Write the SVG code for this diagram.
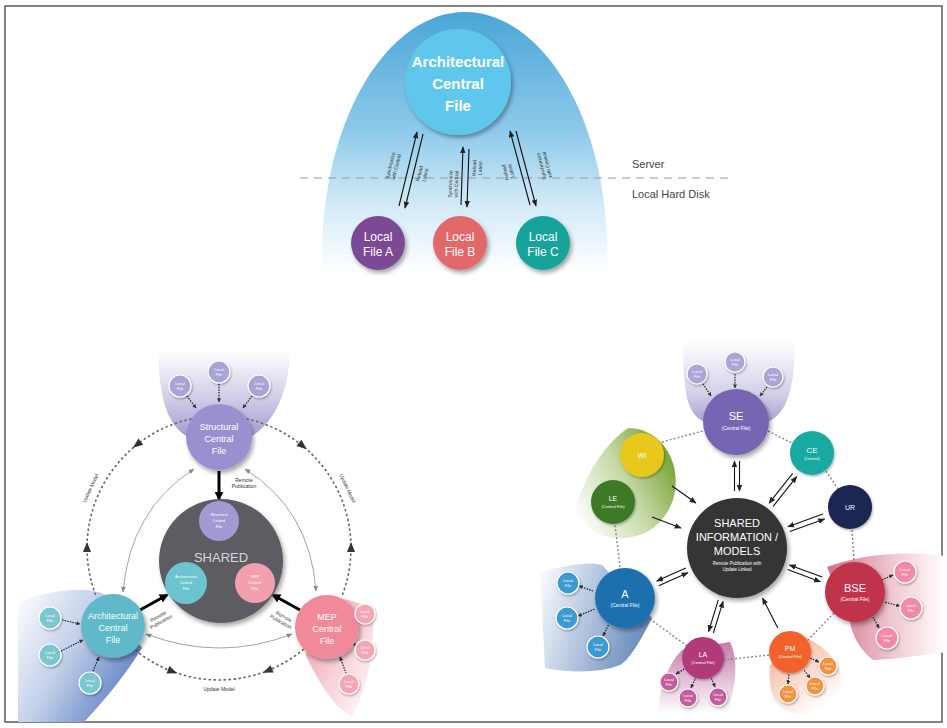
<svg xmlns="http://www.w3.org/2000/svg" width="947" height="728" viewBox="0 0 947 728">
  <defs>
    <style>
      .t { font-family: "Liberation Sans", Arial, sans-serif; }
      .wb { fill: #ffffff; font-weight: bold; text-anchor: middle; }
      .w { fill: #ffffff; text-anchor: middle; }
      .tiny { font-size: 4px; fill: #ffffff; text-anchor: middle; }
      .lbl { font-size: 5px; fill: #333333; text-anchor: middle; }
      .ring { fill: none; stroke: #666666; stroke-width: 1.6; stroke-dasharray: 2.5 2.5; }
      .dash { fill: none; stroke: #888888; stroke-width: 1.4; stroke-dasharray: 2 2; }
      .thin { fill: none; stroke: #999999; stroke-width: 0.9; }
      .blk { fill: none; stroke: #111111; stroke-width: 1.1; }
      .small { stroke: #ffffff; stroke-width: 1.2; }
    </style>
    <filter id="sh" x="-30%" y="-30%" width="170%" height="170%">
      <feDropShadow dx="2" dy="3" stdDeviation="2" flood-color="#000000" flood-opacity="0.35"/>
    </filter>
    <filter id="sh2" x="-30%" y="-30%" width="170%" height="170%">
      <feDropShadow dx="1" dy="1.5" stdDeviation="1" flood-color="#000000" flood-opacity="0.3"/>
    </filter>
    <linearGradient id="gDome" x1="0" y1="0" x2="0" y2="1">
      <stop offset="0" stop-color="#4aa6d8"/>
      <stop offset="0.45" stop-color="#8cc9ea"/>
      <stop offset="0.75" stop-color="#d4ebf7"/>
      <stop offset="1" stop-color="#ffffff"/>
    </linearGradient>
    <linearGradient id="gStr" x1="0" y1="0" x2="0" y2="1">
      <stop offset="0" stop-color="#ffffff"/>
      <stop offset="0.55" stop-color="#d2cde8"/>
      <stop offset="1" stop-color="#a49bd2"/>
    </linearGradient>
    <linearGradient id="gArch" x1="0" y1="0" x2="1" y2="0.6">
      <stop offset="0" stop-color="#ffffff"/>
      <stop offset="0.5" stop-color="#c3d0ea"/>
      <stop offset="1" stop-color="#5f82c4"/>
    </linearGradient>
    <linearGradient id="gMep" x1="0" y1="0" x2="1" y2="1">
      <stop offset="0" stop-color="#ee94a6"/>
      <stop offset="0.55" stop-color="#f8d3da"/>
      <stop offset="1" stop-color="#ffffff"/>
    </linearGradient>
    <linearGradient id="gSE" x1="0" y1="0" x2="0" y2="1">
      <stop offset="0" stop-color="#ffffff"/>
      <stop offset="0.65" stop-color="#d4d0e8"/>
      <stop offset="1" stop-color="#aaa3d3"/>
    </linearGradient>
    <linearGradient id="gBSE" x1="0" y1="0" x2="1" y2="0">
      <stop offset="0" stop-color="#cf7286"/>
      <stop offset="0.55" stop-color="#efc8d0"/>
      <stop offset="1" stop-color="#ffffff"/>
    </linearGradient>
    <linearGradient id="gPM" x1="0" y1="0" x2="0.6" y2="1">
      <stop offset="0" stop-color="#f2a68a"/>
      <stop offset="1" stop-color="#ffffff"/>
    </linearGradient>
    <linearGradient id="gLA" x1="0" y1="0" x2="0" y2="1">
      <stop offset="0" stop-color="#c47aa8"/>
      <stop offset="1" stop-color="#ffffff"/>
    </linearGradient>
    <linearGradient id="gA" x1="1" y1="0.3" x2="0" y2="0">
      <stop offset="0" stop-color="#7090bf"/>
      <stop offset="0.6" stop-color="#c5d2e6"/>
      <stop offset="1" stop-color="#ffffff"/>
    </linearGradient>
    <linearGradient id="gLeaf" x1="1" y1="0.2" x2="0" y2="0.8">
      <stop offset="0" stop-color="#6f9d25"/>
      <stop offset="0.5" stop-color="#c6d9a8"/>
      <stop offset="1" stop-color="#ffffff"/>
    </linearGradient>
    <marker id="ah" viewBox="0 0 10 10" refX="9" refY="5" markerWidth="7" markerHeight="7" markerUnits="userSpaceOnUse" orient="auto-start-reverse">
      <path d="M0,1 L10,5 L0,9 z" fill="#222222"/>
    </marker>
    <marker id="ahB" viewBox="0 0 10 10" refX="8" refY="5" markerWidth="9" markerHeight="9" markerUnits="userSpaceOnUse" orient="auto-start-reverse">
      <path d="M0,0 L10,5 L0,10 z" fill="#000000"/>
    </marker>
    <marker id="ahG" viewBox="0 0 10 10" refX="9" refY="5" markerWidth="6" markerHeight="6" markerUnits="userSpaceOnUse" orient="auto-start-reverse">
      <path d="M0,1 L10,5 L0,9 z" fill="#888888"/>
    </marker>
    <marker id="ahS" viewBox="0 0 10 10" refX="9" refY="5" markerWidth="4" markerHeight="4" markerUnits="userSpaceOnUse" orient="auto-start-reverse">
      <path d="M0,0 L10,5 L0,10 z" fill="#333333"/>
    </marker>
  </defs>

  <rect x="0" y="0" width="947" height="728" fill="#ffffff"/>
  <rect x="5" y="6" width="937" height="716" fill="none" stroke="#333333" stroke-width="1.2"/>

  <!-- ===== Worksharing: central file on server, local copies ===== -->
  <g id="server-zone">
    <path d="M322,272 C318,120 388,12 465,12 C542,12 612,120 607,272 Z" fill="url(#gDome)"/>
    <line x1="300" y1="178" x2="728" y2="178" stroke="#999999" stroke-width="1.2" stroke-dasharray="8 6"/>
    <text class="t" x="632" y="168" font-size="11" fill="#444444">Server</text>
    <text class="t" x="632" y="198" font-size="11" fill="#444444">Local Hard Disk</text>
  </g>

  <g id="arch-central">
    <circle cx="458" cy="82" r="53" fill="#5fc6ec" filter="url(#sh)"/>
    <text class="t wb" font-size="15"><tspan x="458" y="67">Architectural</tspan><tspan x="458" y="89">Central</tspan><tspan x="458" y="111">File</tspan></text>
  </g>
  <g id="local-a">
    <circle cx="378" cy="243" r="27" fill="#7b4a95" filter="url(#sh)"/>
    <text class="t w" font-size="12"><tspan x="378" y="241">Local</tspan><tspan x="378" y="256">File A</tspan></text>
  </g>
  <g id="local-b">
    <circle cx="460" cy="243" r="27" fill="#e2696b" filter="url(#sh)"/>
    <text class="t w" font-size="12"><tspan x="460" y="241">Local</tspan><tspan x="460" y="256">File B</tspan></text>
  </g>
  <g id="local-c">
    <circle cx="543" cy="243" r="27" fill="#16a39a" filter="url(#sh)"/>
    <text class="t w" font-size="12"><tspan x="543" y="241">Local</tspan><tspan x="543" y="256">File C</tspan></text>
  </g>

  <g id="sync-connectors">
    <line class="blk" x1="399" y1="206" x2="417" y2="132" marker-end="url(#ah)"/>
    <line class="blk" x1="423" y1="134" x2="405" y2="208" marker-end="url(#ah)"/>
    <line class="blk" x1="461" y1="205" x2="463" y2="147" marker-end="url(#ah)"/>
    <line class="blk" x1="469" y1="149" x2="467" y2="207" marker-end="url(#ah)"/>
    <line class="blk" x1="530" y1="205" x2="510" y2="131" marker-end="url(#ah)"/>
    <line class="blk" x1="516" y1="131" x2="536" y2="206" marker-end="url(#ah)"/>
    <g class="t lbl" font-size="5">
      <text transform="translate(392,166) rotate(-76)"><tspan x="0" y="0">Synchronize</tspan><tspan x="0" y="6">with Central</tspan></text>
      <text transform="translate(421,174) rotate(-76)"><tspan x="0" y="0">Reload</tspan><tspan x="0" y="6">Latest</tspan></text>
      <text transform="translate(452,184) rotate(-88)"><tspan x="0" y="0">Synchronize</tspan><tspan x="0" y="6">with Central</tspan></text>
      <text transform="translate(476,168) rotate(-88)"><tspan x="0" y="0">Reload</tspan><tspan x="0" y="6">Latest</tspan></text>
      <text transform="translate(507,172) rotate(-104)"><tspan x="0" y="0">Reload</tspan><tspan x="0" y="6">Latest</tspan></text>
      <text transform="translate(543,166) rotate(-104)"><tspan x="0" y="0">Synchronize</tspan><tspan x="0" y="6">with Central</tspan></text>
    </g>
  </g>

  <!-- ===== Linked central files sharing through a common set ===== -->
  <g id="zones-left">
    <path d="M158,350 L290,350 C289,395 272,425 250,437 L188,437 C166,425 159,395 158,350 Z" fill="url(#gStr)"/>
    <path d="M18,602 C50,590 85,586 104,594 L142,648 C122,680 100,705 84,722 L18,722 Z" fill="url(#gArch)"/>
    <path d="M310,600 C335,595 356,600 373,610 C374,650 368,690 352,716 C334,708 320,684 306,656 Z" fill="url(#gMep)"/>
  </g>

  <g id="connectors-left">
    <!-- dashed ring between the three central files -->
    <path class="ring" d="M191.6,418.9 A132,132 0 0 0 96.6,597.4"/>
    <path class="ring" d="M246.4,418.9 A132,132 0 0 1 341.4,597.4"/>
    <path class="ring" d="M303.8,649.1 A132,132 0 0 1 134.9,649.7"/>
    <g fill="#333333">
      <polygon points="6,0 -4,-4 -4,4" transform="translate(137.7,444) rotate(142)"/>
      <polygon points="6,0 -4,-4 -4,4" transform="translate(87,548) rotate(270)"/>
      <polygon points="6,0 -4,-4 -4,4" transform="translate(302.1,445.4) rotate(39)"/>
      <polygon points="6,0 -4,-4 -4,4" transform="translate(351,548) rotate(-90)"/>
      <polygon points="6,0 -4,-4 -4,4" transform="translate(268.4,670.4) rotate(158)"/>
      <polygon points="6,0 -4,-4 -4,4" transform="translate(171.7,671.2) rotate(21)"/>
    </g>
    <text class="t lbl" transform="translate(92,489) rotate(-65)">Update Model</text>
    <text class="t lbl" transform="translate(346,489) rotate(65)">Update Model</text>
    <text class="t lbl" x="219" y="691">Update Model</text>
    <!-- thin links around the shared set -->
    <path class="thin" d="M194,469 Q130,510 123,592" marker-start="url(#ahG)" marker-end="url(#ahG)"/>
    <path class="thin" d="M245,469 Q310,510 316,591" marker-start="url(#ahG)" marker-end="url(#ahG)"/>
    <path class="thin" d="M146,634 Q220,662 292,634" marker-start="url(#ahG)" marker-end="url(#ahG)"/>
    <!-- remote publication -->
    <line x1="219" y1="471" x2="219" y2="499" stroke="#000000" stroke-width="3" marker-end="url(#ahB)"/>
    <line x1="140" y1="610" x2="167" y2="595" stroke="#000000" stroke-width="3" marker-end="url(#ahB)"/>
    <line x1="300" y1="610" x2="273" y2="595" stroke="#000000" stroke-width="3" marker-end="url(#ahB)"/>
    <text class="t lbl"><tspan x="244" y="482">Remote</tspan><tspan x="244" y="488">Publication</tspan></text>
    <text class="t lbl" transform="translate(159,618) rotate(-29)"><tspan x="0" y="0">Remote</tspan><tspan x="0" y="6">Publication</tspan></text>
    <text class="t lbl" transform="translate(283,618) rotate(29)"><tspan x="0" y="0">Remote</tspan><tspan x="0" y="6">Publication</tspan></text>
    <!-- local files to central files -->
    <g class="blk" stroke-width="0.9" stroke-dasharray="1.5 1.2">
      <line x1="187" y1="396" x2="196" y2="408" marker-end="url(#ahS)"/>
      <line x1="219" y1="384" x2="219" y2="402" marker-end="url(#ahS)"/>
      <line x1="252" y1="396" x2="243" y2="408" marker-end="url(#ahS)"/>
      <line x1="62" y1="620" x2="80" y2="624" marker-end="url(#ahS)"/>
      <line x1="61" y1="651" x2="83" y2="640" marker-end="url(#ahS)"/>
      <line x1="93" y1="671" x2="99" y2="657" marker-end="url(#ahS)"/>
      <line x1="349" y1="615" x2="357" y2="614" marker-start="url(#ahS)"/>
      <line x1="352" y1="643" x2="357" y2="646" marker-start="url(#ahS)"/>
      <line x1="340" y1="657" x2="346" y2="673" marker-start="url(#ahS)"/>
    </g>
  </g>

  <g id="shared">
    <circle cx="221" cy="561" r="62" fill="#5d5c63" filter="url(#sh)"/>
    <text class="t" x="221" y="562" font-size="13" fill="#d8d8dc" text-anchor="middle">SHARED</text>
  </g>
  <g id="structural-linked">
    <circle cx="219" cy="521" r="20" fill="#a29bd3"/>
    <text class="t tiny" font-size="5"><tspan x="219" y="516">Structural</tspan><tspan x="219" y="522">Linked</tspan><tspan x="219" y="528">File</tspan></text>
  </g>
  <g id="arch-linked">
    <circle cx="186" cy="583" r="21" fill="#6cc4d0"/>
    <text class="t tiny" font-size="5"><tspan x="186" y="578">Architectural</tspan><tspan x="186" y="584">Linked</tspan><tspan x="186" y="590">File</tspan></text>
  </g>
  <g id="mep-linked">
    <circle cx="255" cy="583" r="20" fill="#f2a0ae"/>
    <text class="t tiny" font-size="5"><tspan x="255" y="578">MEP</tspan><tspan x="255" y="584">Linked</tspan><tspan x="255" y="590">File</tspan></text>
  </g>
  <g id="structural-central">
    <circle cx="219" cy="437" r="33" fill="#9b90cf" filter="url(#sh)"/>
    <text class="t w" font-size="9"><tspan x="219" y="430">Structural</tspan><tspan x="219" y="442">Central</tspan><tspan x="219" y="454">File</tspan></text>
  </g>
  <g id="arch-central-2">
    <circle cx="113" cy="626" r="32" fill="#5fb9c9" filter="url(#sh)"/>
    <text class="t w" font-size="9"><tspan x="113" y="619">Architectural</tspan><tspan x="113" y="631">Central</tspan><tspan x="113" y="643">File</tspan></text>
  </g>
  <g id="mep-central">
    <circle cx="327" cy="627" r="32" fill="#f08a9b" filter="url(#sh)"/>
    <text class="t w" font-size="9"><tspan x="327" y="620">MEP</tspan><tspan x="327" y="632">Central</tspan><tspan x="327" y="644">File</tspan></text>
  </g>
  <g id="local-files-left">
    <g fill="#a9a4d6" class="small" filter="url(#sh2)">
      <circle cx="180" cy="386" r="11"/>
      <circle cx="219" cy="372" r="11"/>
      <circle cx="259" cy="386" r="11"/>
    </g>
    <g fill="#7cc6d0" class="small" filter="url(#sh2)">
      <circle cx="50" cy="618" r="11"/>
      <circle cx="50" cy="655" r="11"/>
      <circle cx="90" cy="683" r="11"/>
    </g>
    <g fill="#f4a6b4" class="small" filter="url(#sh2)">
      <circle cx="365" cy="614" r="10"/>
      <circle cx="365" cy="650" r="10"/>
      <circle cx="349" cy="684" r="10"/>
    </g>
    <g class="t tiny">
      <text x="180" y="385">Local<tspan x="180" dy="5">File</tspan></text>
      <text x="219" y="371">Local<tspan x="219" dy="5">File</tspan></text>
      <text x="259" y="385">Local<tspan x="259" dy="5">File</tspan></text>
      <text x="50" y="617">Local<tspan x="50" dy="5">File</tspan></text>
      <text x="50" y="654">Local<tspan x="50" dy="5">File</tspan></text>
      <text x="90" y="682">Local<tspan x="90" dy="5">File</tspan></text>
      <text x="365" y="613">Local<tspan x="365" dy="5">File</tspan></text>
      <text x="365" y="649">Local<tspan x="365" dy="5">File</tspan></text>
      <text x="349" y="683">Local<tspan x="349" dy="5">File</tspan></text>
    </g>
  </g>

  <!-- ===== Discipline models around shared information ===== -->
  <g id="zones-right">
    <path d="M683,340 L795,340 C795,390 786,415 767,422 L705,422 C686,415 683,390 683,340 Z" fill="url(#gSE)"/>
    <path d="M575,512 C585,470 610,440 628,428 C660,428 684,462 673,500 C664,525 645,538 620,538 C600,538 585,528 575,512 Z" fill="url(#gLeaf)"/>
    <path d="M827,567 C860,555 900,550 946,556 L946,652 C915,656 888,660 873,660 C860,650 852,635 850,622 Z" fill="url(#gBSE)"/>
    <path d="M800,635 C825,645 846,665 840,690 C835,705 820,714 800,714 C780,712 767,700 770,665 Z" fill="url(#gPM)"/>
    <path d="M682,650 L730,642 C739,660 736,690 726,714 L658,714 C659,690 667,665 682,650 Z" fill="url(#gLA)"/>
    <path d="M540,572 C565,565 590,561 602,565 L652,618 C641,640 629,660 620,665 C600,673 570,673 545,668 Z" fill="url(#gA)"/>
  </g>

  <g id="connectors-right">
    <g class="dash">
      <line x1="662" y1="442" x2="703" y2="431"/>
      <line x1="768" y1="431" x2="792" y2="443"/>
      <line x1="826" y1="471" x2="838" y2="489"/>
      <line x1="852" y1="530" x2="854" y2="561"/>
      <line x1="834" y1="613" x2="808" y2="640"/>
      <line x1="769" y1="655" x2="724" y2="660"/>
      <line x1="687" y1="646" x2="650" y2="619"/>
      <line x1="620" y1="567" x2="615" y2="525"/>
    </g>
    <g class="blk" stroke-width="1.3">
      <line x1="734.5" y1="491" x2="734.5" y2="461" marker-end="url(#ah)"/>
      <line x1="739.5" y1="461" x2="739.5" y2="491" marker-end="url(#ah)"/>
      <line x1="773.1" y1="506.4" x2="796.7" y2="476.6" marker-end="url(#ah)"/>
      <line x1="792.7" y1="473.4" x2="769.1" y2="503.2" marker-end="url(#ah)"/>
      <line x1="789.7" y1="531.6" x2="824.6" y2="518.9" marker-end="url(#ah)"/>
      <line x1="822.8" y1="514.1" x2="787.9" y2="526.8" marker-end="url(#ah)"/>
      <line x1="787.6" y1="569.5" x2="820.4" y2="581.7" marker-end="url(#ah)"/>
      <line x1="822.2" y1="577.1" x2="789.4" y2="564.9" marker-end="url(#ah)"/>
      <line x1="777.8" y1="628" x2="762.5" y2="598" marker-end="url(#ah)"/>
      <line x1="718.3" y1="599.9" x2="708.6" y2="631.5" marker-end="url(#ah)"/>
      <line x1="713.4" y1="632.9" x2="723.1" y2="601.3" marker-end="url(#ah)"/>
      <line x1="685.9" y1="568.1" x2="656.7" y2="581.1" marker-end="url(#ah)"/>
      <line x1="658.7" y1="585.7" x2="687.9" y2="572.7" marker-end="url(#ah)"/>
      <line x1="652" y1="517" x2="681" y2="528" marker-end="url(#ah)"/>
      <line x1="672" y1="486" x2="696" y2="503" marker-end="url(#ah)"/>
    </g>
    <g class="blk" stroke-width="0.9" stroke-dasharray="1.5 1.2">
      <line x1="703" y1="384" x2="711" y2="396" marker-end="url(#ahS)"/>
      <line x1="735" y1="374" x2="735" y2="388" marker-end="url(#ahS)"/>
      <line x1="767" y1="387" x2="760" y2="396" marker-end="url(#ahS)"/>
      <line x1="893" y1="575" x2="882" y2="580" marker-start="url(#ahS)"/>
      <line x1="900" y1="606" x2="884" y2="602" marker-start="url(#ahS)"/>
      <line x1="879" y1="628" x2="873" y2="617" marker-start="url(#ahS)"/>
      <line x1="819" y1="662" x2="810" y2="658" marker-start="url(#ahS)"/>
      <line x1="810" y1="678" x2="804" y2="670" marker-start="url(#ahS)"/>
      <line x1="788" y1="684" x2="789" y2="674" marker-start="url(#ahS)"/>
      <line x1="676" y1="674" x2="686" y2="668" marker-start="url(#ahS)"/>
      <line x1="691" y1="688" x2="696" y2="677" marker-start="url(#ahS)"/>
      <line x1="715" y1="687" x2="711" y2="677" marker-start="url(#ahS)"/>
      <line x1="579" y1="586" x2="593" y2="591" marker-start="url(#ahS)"/>
      <line x1="578" y1="616" x2="595" y2="609" marker-start="url(#ahS)"/>
      <line x1="603" y1="636" x2="609" y2="624" marker-start="url(#ahS)"/>
    </g>
  </g>

  <g id="shared-info">
    <circle cx="737" cy="548" r="50" fill="#343436" filter="url(#sh)"/>
    <text class="t w" font-size="11"><tspan x="737" y="527">SHARED</tspan><tspan x="737" y="541">INFORMATION /</tspan><tspan x="737" y="555">MODELS</tspan></text>
    <text class="t w" font-size="4.5"><tspan x="737" y="565">Remote Publication with</tspan><tspan x="737" y="571">Update Linked</tspan></text>
  </g>
  <g id="se">
    <circle cx="736" cy="422" r="33" fill="#7765b4" filter="url(#sh)"/>
    <text class="t w" font-size="11"><tspan x="736" y="420">SE</tspan></text>
    <text class="t w" font-size="5"><tspan x="736" y="430">(Central File)</tspan></text>
  </g>
  <g id="ce">
    <circle cx="812" cy="453" r="22" fill="#17aaa0" filter="url(#sh2)"/>
    <text class="t w" font-size="8"><tspan x="812" y="453">CE</tspan></text>
    <text class="t w" font-size="4"><tspan x="812" y="460">(Central)</tspan></text>
  </g>
  <g id="ur">
    <circle cx="850" cy="507" r="22" fill="#1b2552" filter="url(#sh2)"/>
    <text class="t w" font-size="7"><tspan x="850" y="510">UR</tspan></text>
  </g>
  <g id="bse">
    <circle cx="855" cy="592" r="30" fill="#c1304c" filter="url(#sh)"/>
    <text class="t w" font-size="11"><tspan x="855" y="592">BSE</tspan></text>
    <text class="t w" font-size="5"><tspan x="855" y="601">(Central File)</tspan></text>
  </g>
  <g id="pm">
    <circle cx="790" cy="652" r="21" fill="#f2622a" filter="url(#sh2)"/>
    <text class="t w" font-size="7"><tspan x="790" y="651">PM</tspan></text>
    <text class="t w" font-size="4"><tspan x="790" y="658">(Central File)</tspan></text>
  </g>
  <g id="la">
    <circle cx="703" cy="658" r="21" fill="#b13b7a" filter="url(#sh2)"/>
    <text class="t w" font-size="7"><tspan x="703" y="657">LA</tspan></text>
    <text class="t w" font-size="4"><tspan x="703" y="664">(Central File)</tspan></text>
  </g>
  <g id="a">
    <circle cx="625" cy="598" r="30" fill="#1f6fad" filter="url(#sh)"/>
    <text class="t w" font-size="11"><tspan x="625" y="598">A</tspan></text>
    <text class="t w" font-size="5"><tspan x="625" y="607">(Central File)</tspan></text>
  </g>
  <g id="le">
    <circle cx="613" cy="502" r="22" fill="#3c7a28" filter="url(#sh2)"/>
    <text class="t w" font-size="7"><tspan x="613" y="501">LE</tspan></text>
    <text class="t w" font-size="4"><tspan x="613" y="508">(Central File)</tspan></text>
  </g>
  <g id="wi">
    <circle cx="642" cy="455" r="22" fill="#e8c81c" filter="url(#sh2)"/>
    <text class="t w" font-size="7"><tspan x="642" y="458">WI</tspan></text>
  </g>
  <g id="local-files-right">
    <g fill="#aba5d8" class="small" filter="url(#sh2)">
      <circle cx="697" cy="374" r="10"/>
      <circle cx="735" cy="362" r="10"/>
      <circle cx="773" cy="377" r="10"/>
    </g>
    <g fill="#f28aa6" class="small" filter="url(#sh2)">
      <circle cx="905" cy="572" r="11"/>
      <circle cx="911" cy="608" r="11"/>
      <circle cx="887" cy="638" r="11"/>
    </g>
    <g fill="#f5923d" class="small" filter="url(#sh2)">
      <circle cx="828" cy="666" r="9"/>
      <circle cx="815" cy="686" r="9"/>
      <circle cx="788" cy="694" r="9"/>
    </g>
    <g fill="#c55b9c" class="small" filter="url(#sh2)">
      <circle cx="669" cy="682" r="9"/>
      <circle cx="688" cy="698" r="9"/>
      <circle cx="718" cy="697" r="9"/>
    </g>
    <g fill="#3b9ad0" class="small" filter="url(#sh2)">
      <circle cx="568" cy="583" r="11"/>
      <circle cx="567" cy="618" r="11"/>
      <circle cx="598" cy="647" r="11"/>
    </g>
    <g class="t tiny" font-size="3.5">
      <text x="697" y="373">Local<tspan x="697" dy="4.5">File</tspan></text>
      <text x="735" y="361">Local<tspan x="735" dy="4.5">File</tspan></text>
      <text x="773" y="376">Local<tspan x="773" dy="4.5">File</tspan></text>
      <text x="905" y="571">Local<tspan x="905" dy="4.5">File</tspan></text>
      <text x="911" y="607">Local<tspan x="911" dy="4.5">File</tspan></text>
      <text x="887" y="637">Local<tspan x="887" dy="4.5">File</tspan></text>
      <text x="828" y="665">Local<tspan x="828" dy="4.5">File</tspan></text>
      <text x="815" y="685">Local<tspan x="815" dy="4.5">File</tspan></text>
      <text x="788" y="693">Local<tspan x="788" dy="4.5">File</tspan></text>
      <text x="669" y="681">Local<tspan x="669" dy="4.5">File</tspan></text>
      <text x="688" y="697">Local<tspan x="688" dy="4.5">File</tspan></text>
      <text x="718" y="696">Local<tspan x="718" dy="4.5">File</tspan></text>
      <text x="568" y="582">Local<tspan x="568" dy="4.5">File</tspan></text>
      <text x="567" y="617">Local<tspan x="567" dy="4.5">File</tspan></text>
      <text x="598" y="646">Local<tspan x="598" dy="4.5">File</tspan></text>
    </g>
  </g>
</svg>
